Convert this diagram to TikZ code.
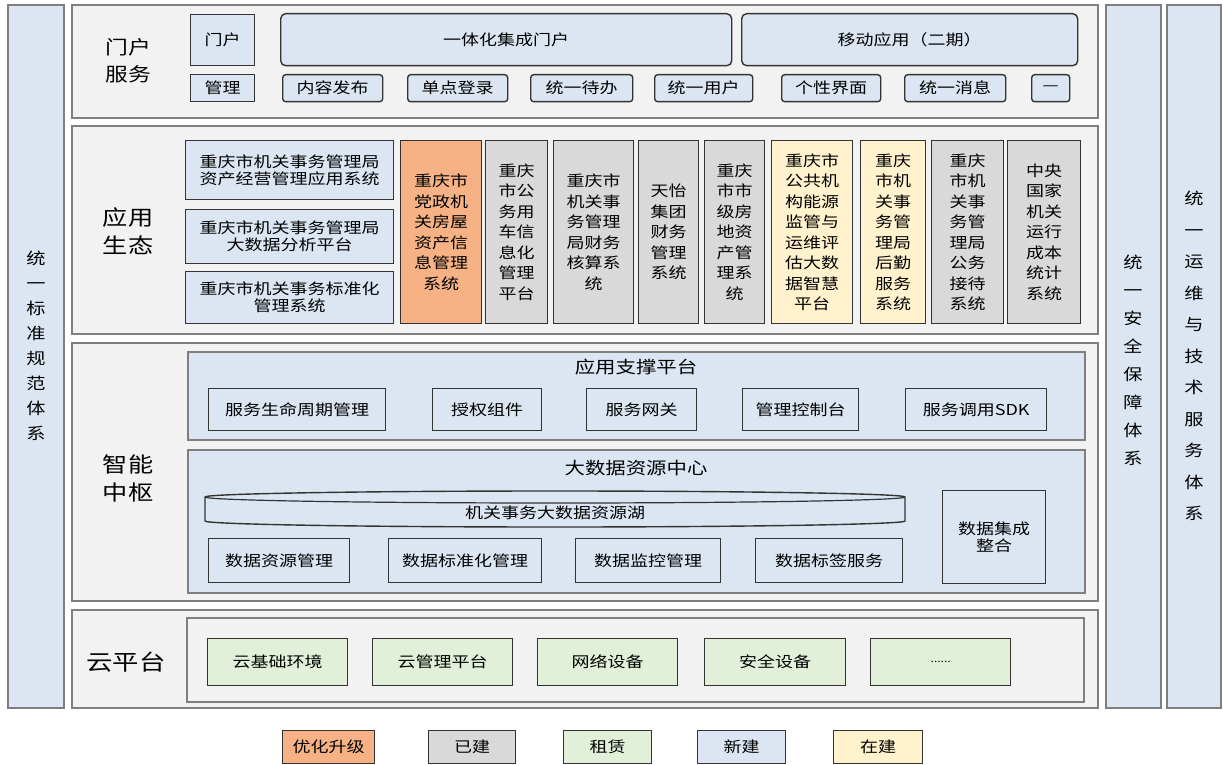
\documentclass[tikz,border=0pt]{standalone}
\usepackage{fontspec}
\setmainfont{Noto Sans CJK SC}[FakeStretch=1.2]
\usepackage{tikz}
\usetikzlibrary{positioning}

\definecolor{newblue}{HTML}{DCE6F2}
\definecolor{oldgray}{HTML}{D9D9D9}
\definecolor{rentgreen}{HTML}{E2F0D9}
\definecolor{upgorange}{HTML}{F6B284}
\definecolor{buildyellow}{HTML}{FFF2CC}
\definecolor{secgray}{HTML}{F2F2F2}
\definecolor{framegray}{HTML}{7F7F7F}

\tikzset{
  sect/.style={draw=framegray, fill=secgray, line width=1.3pt},
  strip/.style={draw=framegray, fill=newblue, line width=1.3pt},
  layer/.style={draw=framegray, line width=1.3pt},
  bx/.style={draw=black!80, line width=1.4pt, anchor=north west, inner sep=0pt,
    align=center, font=\fontsize{15}{17}\selectfont},
  tall/.style={bx, font=\fontsize{15}{20.5}\selectfont},
  seclabel/.style={align=center, font=\fontsize{21}{28}\selectfont},
  striplabel/.style={align=center, font=\fontsize{16}{25}\selectfont},
}

\begin{document}
\begin{tikzpicture}[x=1pt, y=-1pt]
\useasboundingbox[fill=white] (0,0) rectangle (1223,765);

% side strips
\draw[strip] (8,5) rectangle (64,708);
\draw[strip] (1106,5) rectangle (1161,708);
\draw[strip] (1167,5) rectangle (1221,708);
\node[striplabel] (stdsys) at (36,346) {统\\一\\标\\准\\规\\范\\体\\系};
\node[striplabel, font=\fontsize{16}{28}\selectfont] (secsys) at (1133,360) {统\\一\\安\\全\\保\\障\\体\\系};
\node[striplabel, font=\fontsize{16}{31.5}\selectfont] (opsys) at (1194,356) {统\\一\\运\\维\\与\\技\\术\\服\\务\\体\\系};

% layers
\draw[sect] (72,5) rectangle (1098,118);
\draw[sect] (72,126) rectangle (1098,334);
\draw[sect] (72,343) rectangle (1098,601);
\draw[sect] (72,610) rectangle (1098,708);
\node[seclabel, font=\fontsize{19}{27}\selectfont] (portalsec) at (128,61) {门户\\服务};
\node[seclabel] (appsec) at (128,231) {应用\\生态};
\node[seclabel] (hubsec) at (128,478) {智能\\中枢};
\node[seclabel, font=\fontsize{22}{28}\selectfont] (cloudsec) at (126,662) {云平台};

% portal services
\node[bx, fill=newblue, minimum width=64, minimum height=51] (portal) at (190,14) {门户};
\node[bx, fill=newblue, minimum width=64, minimum height=27] (portalmgmt) at (190,74) {管理};
\node[bx, fill=newblue, rounded corners=5pt, minimum width=451, minimum height=52] (oneportal) at (280,13) {一体化集成门户};
\node[bx, fill=newblue, rounded corners=5pt, minimum width=336, minimum height=52] (mobile) at (741,13) {移动应用（二期）};
\node[bx, fill=newblue, rounded corners=3pt, minimum width=100, minimum height=27] (publish) at (282,74) {内容发布};
\node[bx, fill=newblue, rounded corners=3pt, minimum width=100, minimum height=27] (sso) at (407,74) {单点登录};
\node[bx, fill=newblue, rounded corners=3pt, minimum width=102, minimum height=27] (todo) at (530,74) {统一待办};
\node[bx, fill=newblue, rounded corners=3pt, minimum width=98, minimum height=27] (users) at (654,74) {统一用户};
\node[bx, fill=newblue, rounded corners=3pt, minimum width=99, minimum height=27] (ui) at (781,74) {个性界面};
\node[bx, fill=newblue, rounded corners=3pt, minimum width=101, minimum height=27] (msg) at (904,74) {统一消息};
\node[bx, fill=newblue, rounded corners=3pt, minimum width=38, minimum height=27] (moreportal) at (1031,74) {—};

% application ecology
\node[bx, fill=newblue, minimum width=208, minimum height=59] (assetapp) at (185,140) {重庆市机关事务管理局\\资产经营管理应用系统};
\node[bx, fill=newblue, minimum width=208, minimum height=54] (bigdataapp) at (185,209) {重庆市机关事务管理局\\大数据分析平台};
\node[bx, fill=newblue, minimum width=208, minimum height=52] (stdapp) at (185,271) {重庆市机关事务标准化\\管理系统};
\node[tall, fill=upgorange, minimum width=81, minimum height=183] (housing) at (400,140) {重庆市\\党政机\\关房屋\\资产信\\息管理\\系统};
\node[tall, fill=oldgray, minimum width=62, minimum height=183] (cars) at (485,140) {重庆\\市公\\务用\\车信\\息化\\管理\\平台};
\node[tall, fill=oldgray, minimum width=80, minimum height=183] (finance) at (553,140) {重庆市\\机关事\\务管理\\局财务\\核算系\\统};
\node[tall, fill=oldgray, minimum width=60, minimum height=183] (tianyi) at (638,140) {天怡\\集团\\财务\\管理\\系统};
\node[tall, fill=oldgray, minimum width=60, minimum height=183] (estate) at (704,140) {重庆\\市市\\级房\\地资\\产管\\理系\\统};
\node[tall, fill=buildyellow, minimum width=81, minimum height=183] (energy) at (771,140) {重庆市\\公共机\\构能源\\监管与\\运维评\\估大数\\据智慧\\平台};
\node[tall, fill=buildyellow, minimum width=65, minimum height=183] (logistics) at (860,140) {重庆\\市机\\关事\\务管\\理局\\后勤\\服务\\系统};
\node[tall, fill=oldgray, minimum width=72, minimum height=183] (reception) at (931,140) {重庆\\市机\\关事\\务管\\理局\\公务\\接待\\系统};
\node[tall, fill=oldgray, minimum width=73, minimum height=183] (costs) at (1007,140) {中央\\国家\\机关\\运行\\成本\\统计\\系统};

% intelligent hub
\draw[layer, fill=newblue] (188,352) rectangle (1085,440);
\node[font=\fontsize{17}{20}\selectfont] (support) at (636,367) {应用支撑平台};
\node[bx, fill=newblue, minimum width=177, minimum height=42] (lifecycle) at (208,388) {服务生命周期管理};
\node[bx, fill=newblue, minimum width=109, minimum height=42] (authz) at (432,388) {授权组件};
\node[bx, fill=newblue, minimum width=110, minimum height=42] (gateway) at (586,388) {服务网关};
\node[bx, fill=newblue, minimum width=116, minimum height=42] (console) at (742,388) {管理控制台};
\node[bx, fill=newblue, minimum width=141, minimum height=42] (sdk) at (905,388) {服务调用SDK};

\draw[layer, fill=newblue] (188,450) rectangle (1085,593);
\node[font=\fontsize{17}{20}\selectfont] (datacenter) at (636,468) {大数据资源中心};
% the data lake drum
\draw[draw=black!80, line width=1.4pt, fill=newblue]
(205,497) -- (205,521) arc[start angle=180, end angle=360, x radius=350pt, y radius=6pt]
-- (905,497) arc[start angle=0, end angle=180, x radius=350pt, y radius=6pt] -- cycle;
\draw[draw=black!80, line width=1.2pt]
(205,497) arc[start angle=180, end angle=360, x radius=350pt, y radius=6pt];
\node[font=\fontsize{15}{17}\selectfont] (lake) at (555,513) {机关事务大数据资源湖};
\node[bx, fill=newblue, minimum width=141, minimum height=44] (resmgmt) at (208,538) {数据资源管理};
\node[bx, fill=newblue, minimum width=153, minimum height=44] (stdmgmt) at (388,538) {数据标准化管理};
\node[bx, fill=newblue, minimum width=145, minimum height=44] (monitor) at (575,538) {数据监控管理};
\node[bx, fill=newblue, minimum width=147, minimum height=44] (tagging) at (755,538) {数据标签服务};
\node[bx, fill=newblue, minimum width=103, minimum height=93] (integrate) at (942,490) {数据集成\\整合};

% cloud platform
\draw[layer, fill=secgray] (187,618) rectangle (1084,702);
\node[bx, fill=rentgreen, minimum width=140, minimum height=47] (cloudbase) at (207,638) {云基础环境};
\node[bx, fill=rentgreen, minimum width=140, minimum height=47] (cloudmgmt) at (372,638) {云管理平台};
\node[bx, fill=rentgreen, minimum width=140, minimum height=47] (network) at (537,638) {网络设备};
\node[bx, fill=rentgreen, minimum width=141, minimum height=47] (security) at (704,638) {安全设备};
\node[bx, fill=rentgreen, minimum width=140, minimum height=47, font=\fontsize{10}{12}\selectfont] (morecloud) at (870,638) {......};

% legend
\node[bx, fill=upgorange, minimum width=92, minimum height=33] (lgupg) at (282,730) {优化升级};
\node[bx, fill=oldgray, minimum width=87, minimum height=33] (lgold) at (428,730) {已建};
\node[bx, fill=rentgreen, minimum width=88, minimum height=33] (lgrent) at (563,730) {租赁};
\node[bx, fill=newblue, minimum width=88, minimum height=33] (lgnew) at (697,730) {新建};
\node[bx, fill=buildyellow, minimum width=89, minimum height=33] (lgbuild) at (833,730) {在建};
\end{tikzpicture}
\end{document}
